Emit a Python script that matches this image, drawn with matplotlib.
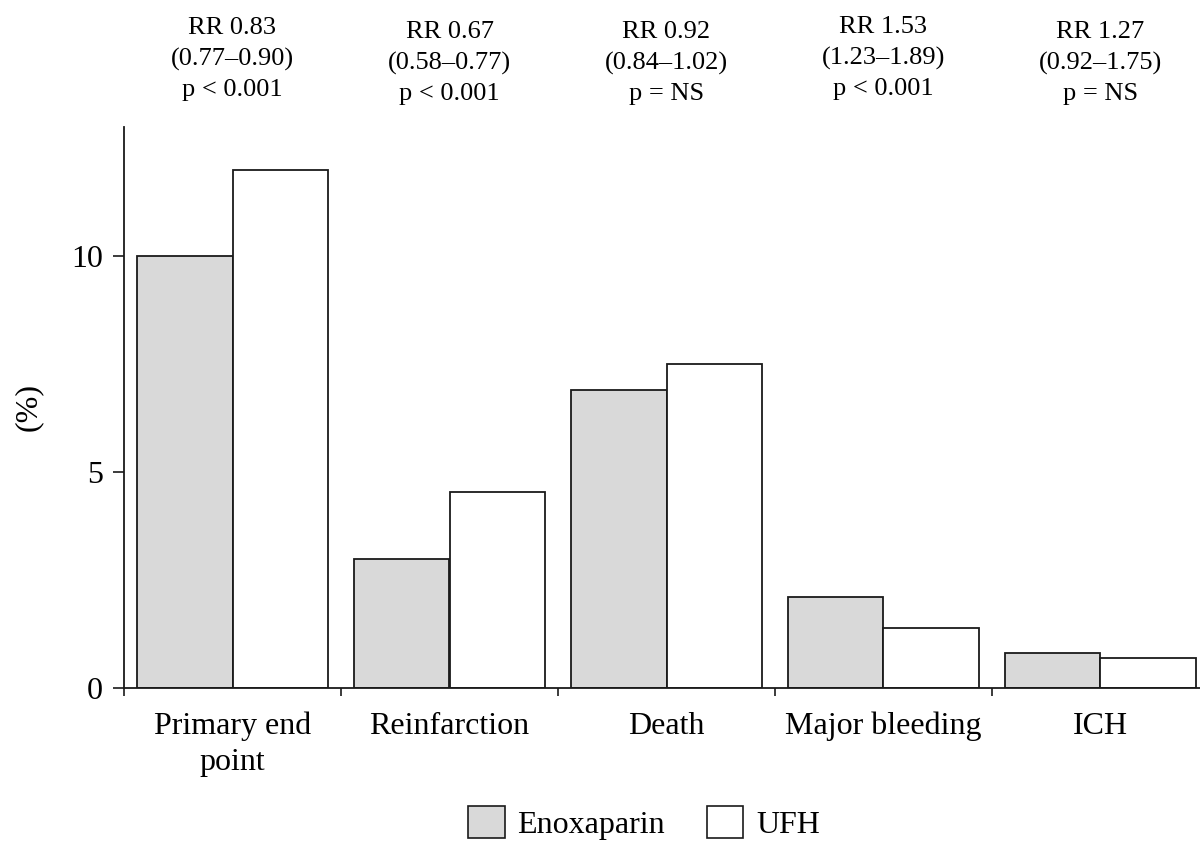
import matplotlib
matplotlib.use("Agg")
import matplotlib.pyplot as plt
from matplotlib.patches import Patch
import matplotlib.transforms as mtransforms
import numpy as np

plt.rcParams['font.family'] = ['Liberation Serif', 'DejaVu Serif']

categories = ["Primary end\npoint", "Reinfarction", "Death", "Major bleeding", "ICH"]
enoxaparin = [10.0, 3.0, 6.9, 2.1, 0.8]
ufh = [12.0, 4.55, 7.5, 1.4, 0.7]
rr_labels = [
    "RR 0.83\n(0.77\u20130.90)\np < 0.001",
    "RR 0.67\n(0.58\u20130.77)\np < 0.001",
    "RR 0.92\n(0.84\u20131.02)\np = NS",
    "RR 1.53\n(1.23\u20131.89)\np < 0.001",
    "RR 1.27\n(0.92\u20131.75)\np = NS",
]
series_names = ["Enoxaparin", "UFH"]
yticks = [0, 5, 10]

W, H = 1200, 841
fig = plt.figure(figsize=(12, 8.41), dpi=100)
ax = fig.add_axes([124 / W, 153 / H, 1076 / W, 561 / H])

x = np.arange(len(categories))
bw = 0.44
ax.bar(x - bw / 2, enoxaparin, width=bw, color="#d9d9d9", edgecolor="#1a1a1a", linewidth=1.3)
ax.bar(x + bw / 2, ufh, width=bw, color="white", edgecolor="#1a1a1a", linewidth=1.3)

ax.set_xlim(-0.5, -0.5 + 1076 / 217)
ax.set_ylim(0, 13)
for s in ["top", "right"]:
    ax.spines[s].set_visible(False)
for s in ["left", "bottom"]:
    ax.spines[s].set_linewidth(1.3)
    ax.spines[s].set_color("#1a1a1a")

ax.set_yticks(yticks)
ax.set_yticklabels([str(t) for t in yticks], fontsize=23)
ax.tick_params(axis="y", direction="out", length=8, width=1.2, pad=7, color="#1a1a1a")

ax.set_xticks(x)
ax.set_xticklabels(categories, fontsize=23, linespacing=1.3)
ax.tick_params(axis="x", which="major", length=0, pad=17)
ax.set_xticks(np.arange(len(categories)) - 0.5, minor=True)
ax.tick_params(axis="x", which="minor", direction="out", length=6, width=1.2, color="#1a1a1a")

fig.text(28 / W, 1 - 407 / H, "(%)", rotation=90, fontsize=23, ha="center", va="center")

trans = mtransforms.blended_transform_factory(ax.transData, fig.transFigure)
block_y = [59, 63, 63, 58, 63]
for i, lab in enumerate(rr_labels):
    ax.text(x[i], 1 - block_y[i] / H, lab, transform=trans,
            ha="center", va="center", fontsize=19, linespacing=1.5)

handles = [Patch(facecolor="#d9d9d9", edgecolor="#1a1a1a", linewidth=1.2),
           Patch(facecolor="white", edgecolor="#1a1a1a", linewidth=1.2)]
fig.legend(handles, series_names, loc="center", bbox_to_anchor=(644 / W, 1 - 823 / H),
           ncol=2, frameon=False, fontsize=23, handlelength=1.15, handleheight=1.15,
           handletextpad=0.4, columnspacing=1.3, borderaxespad=0, borderpad=0)

fig.savefig("out.png", dpi=100)
